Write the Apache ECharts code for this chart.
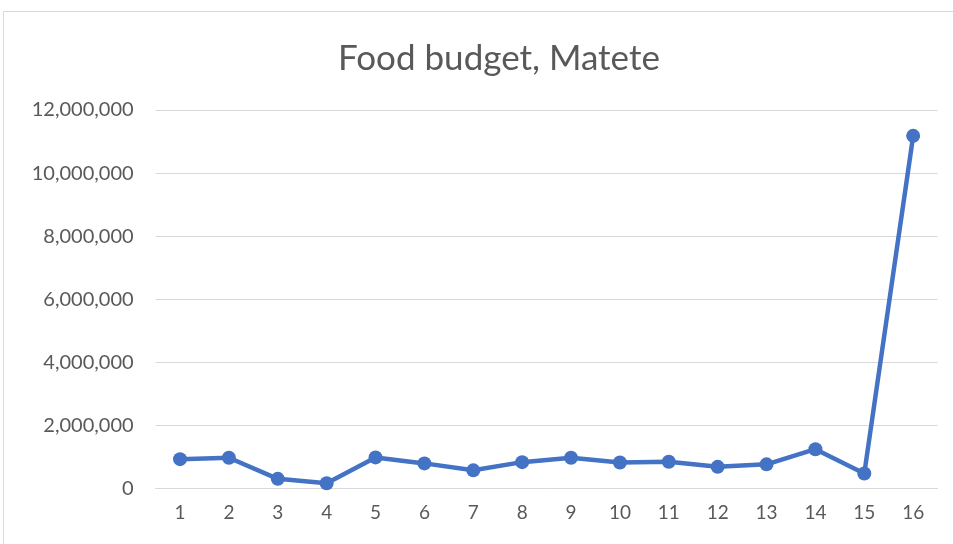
<!DOCTYPE html>
<html>
<head>
<meta charset="utf-8">
<script src="https://cdn.jsdelivr.net/npm/echarts@6/dist/echarts.min.js"></script>
<style>
  html, body { margin: 0; padding: 0; background: #fff; }
  #main { width: 953px; height: 544px; }
</style>
</head>
<body>
<div id="main"></div>
<script>
// 数据
var categories = ['1', '2', '3', '4', '5', '6', '7', '8', '9', '10', '11', '12', '13', '14', '15', '16'];
var budgetValues = [925000, 970000, 300000, 160000, 980000, 790000, 570000, 830000, 970000, 820000, 840000, 680000, 760000, 1240000, 470000, 11180000];
var yTicks = { min: 0, max: 12000000, interval: 2000000 };

var chart = echarts.init(document.getElementById('main'));
var option = {
    backgroundColor: '#ffffff',
    animation: false,
    title: {
        text: 'Food budget, Matete',
        left: 333,
        top: 36,
        textStyle: {
            fontFamily: 'Lato',
            fontSize: 35,
            fontWeight: 'normal',
            color: '#595959'
        }
    },
    graphic: [
        {
            type: 'rect',
            shape: { x: 3.5, y: 11.5, width: 960, height: 560 },
            style: { fill: 'none', stroke: '#d9d9d9', lineWidth: 1 },
            silent: true
        }
    ],
    grid: {
        left: 155.6,
        right: 15.4,
        top: 110,
        bottom: 55.7
    },
    xAxis: {
        type: 'category',
        data: categories,
        boundaryGap: true,
        axisTick: { show: false },
        axisLine: { show: true, lineStyle: { color: '#d9d9d9', width: 1 } },
        axisLabel: {
            color: '#595959',
            fontFamily: 'Lato',
            fontSize: 19,
            margin: 15
        }
    },
    yAxis: {
        type: 'value',
        min: yTicks.min,
        max: yTicks.max,
        interval: yTicks.interval,
        axisTick: { show: false },
        axisLine: { show: false },
        axisLabel: {
            color: '#595959',
            fontFamily: 'Lato',
            fontSize: 20,
            margin: 22,
            formatter: function (v) {
                return v.toString().replace(/\B(?=(\d{3})+(?!\d))/g, ',');
            }
        },
        splitLine: { lineStyle: { color: '#d9d9d9', width: 1 } }
    },
    series: [
        {
            name: 'Food budget',
            type: 'line',
            data: budgetValues,
            symbol: 'circle',
            symbolSize: 14,
            lineStyle: { color: '#4472C4', width: 4.5 },
            itemStyle: { color: '#4472C4' }
        }
    ]
};
chart.setOption(option);
</script>
</body>
</html>
